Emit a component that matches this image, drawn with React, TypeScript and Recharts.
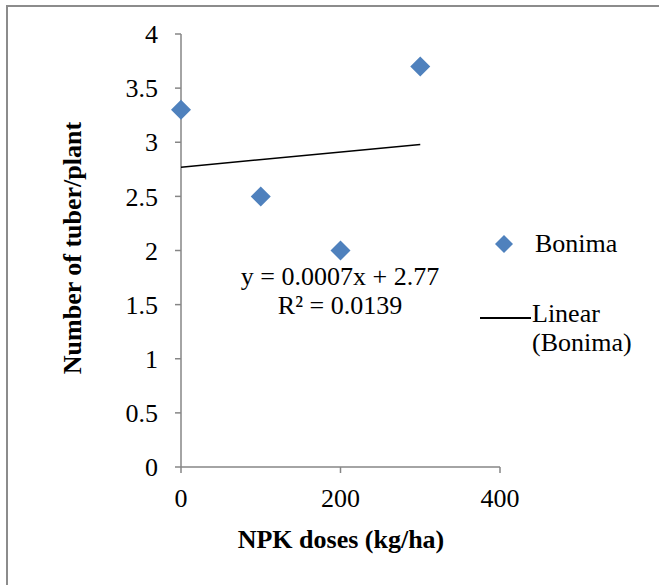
import React from "react";
import { ScatterChart, Scatter, XAxis, YAxis } from "recharts";

// NPK dose (kg/ha) vs number of tubers per plant, variety Bonima
const doses = [0, 100, 200, 300];
const tubers = [3.3, 2.5, 2.0, 3.7];

const xTicks = [0, 200, 400];
const yTicks = [0, 0.5, 1, 1.5, 2, 2.5, 3, 3.5, 4];

// linear trend as printed on the chart
const slope = 0.0007;
const intercept = 2.77;
const trendX = [0, 300];

const FONT = "'Liberation Serif', 'Times New Roman', serif";
const AXIS = "#868686";
const BLUE = "#4F81BD";
const FRAME = "#8c8c8c";

const points = doses.map((x, i) => ({ x, y: tubers[i] }));
const trend = trendX.map((x) => ({ x, y: intercept + slope * x }));

const Diamond = (props: any) => {
  const { cx, cy } = props;
  const r = 10;
  return (
    <polygon
      points={`${cx},${cy - r} ${cx + r},${cy} ${cx},${cy + r} ${cx - r},${cy}`}
      fill={BLUE}
    />
  );
};

const NoDot = () => <g />;

const text: React.CSSProperties = {
  position: "absolute",
  fontFamily: FONT,
  fontSize: 26,
  lineHeight: "30px",
  color: "#000",
  whiteSpace: "nowrap",
};

export default function App() {
  return (
    <div style={{ position: "absolute", left: 0, top: 0, width: 659, height: 585, background: "#fff", overflow: "hidden" }}>
      {/* outer frame, only top and left edges show */}
      <div style={{ position: "absolute", left: 6, top: 5, width: 653, height: 2, background: FRAME }} />
      <div style={{ position: "absolute", left: 6, top: 5, width: 2, height: 580, background: FRAME }} />

      <div style={{ position: "absolute", left: 0, top: 0 }}>
        <ScatterChart width={659} height={585} margin={{ top: 34, right: 159, bottom: 0, left: 0 }}>
          <XAxis
            type="number"
            dataKey="x"
            domain={[0, 400]}
            ticks={xTicks}
            height={118}
            axisLine={{ stroke: AXIS, strokeWidth: 1.5 }}
            tickLine={{ stroke: AXIS, strokeWidth: 1.5 }}
            tickSize={6}
            tickMargin={16}
            tick={{ fill: "#000", fontSize: 26, fontFamily: FONT }}
          />
          <YAxis
            type="number"
            dataKey="y"
            domain={[0, 4]}
            ticks={yTicks}
            width={181}
            axisLine={{ stroke: AXIS, strokeWidth: 1.5 }}
            tickLine={{ stroke: AXIS, strokeWidth: 1.5 }}
            tickSize={6}
            tickMargin={17}
            tick={{ fill: "#000", fontSize: 26, fontFamily: FONT }}
          />
          <Scatter
            name="Linear (Bonima)"
            data={trend}
            line={{ stroke: "#000", strokeWidth: 1.5 }}
            shape={NoDot}
            isAnimationActive={false}
          />
          <Scatter name="Bonima" data={points} shape={Diamond} isAnimationActive={false} />
        </ScatterChart>
      </div>

      {/* legend */}
      <svg width={20} height={20} style={{ position: "absolute", left: 494, top: 234 }}>
        <polygon points="10,1 19,10 10,19 1,10" fill={BLUE} />
      </svg>
      <div style={{ ...text, left: 535, top: 229 }}>Bonima</div>
      <div style={{ position: "absolute", left: 480, top: 317, width: 51, height: 1.5, background: "#000" }} />
      <div style={{ ...text, left: 532, top: 299, lineHeight: "29px" }}>
        Linear
        <br />
        (Bonima)
      </div>

      {/* trendline equation */}
      <div style={{ ...text, left: 200, top: 262, width: 280, textAlign: "center", lineHeight: "29px" }}>
        y = 0.0007x + 2.77
        <br />
        R² = 0.0139
      </div>

      {/* axis titles */}
      <div style={{ ...text, left: 181, top: 525, width: 320, textAlign: "center", fontWeight: "bold" }}>
        NPK doses (kg/ha)
      </div>
      <div
        style={{
          ...text,
          left: 73 - 160,
          top: 248 - 15,
          width: 320,
          textAlign: "center",
          transform: "rotate(-90deg)",
          fontWeight: "bold",
        }}
      >
        Number of tuber/plant
      </div>
    </div>
  );
}
